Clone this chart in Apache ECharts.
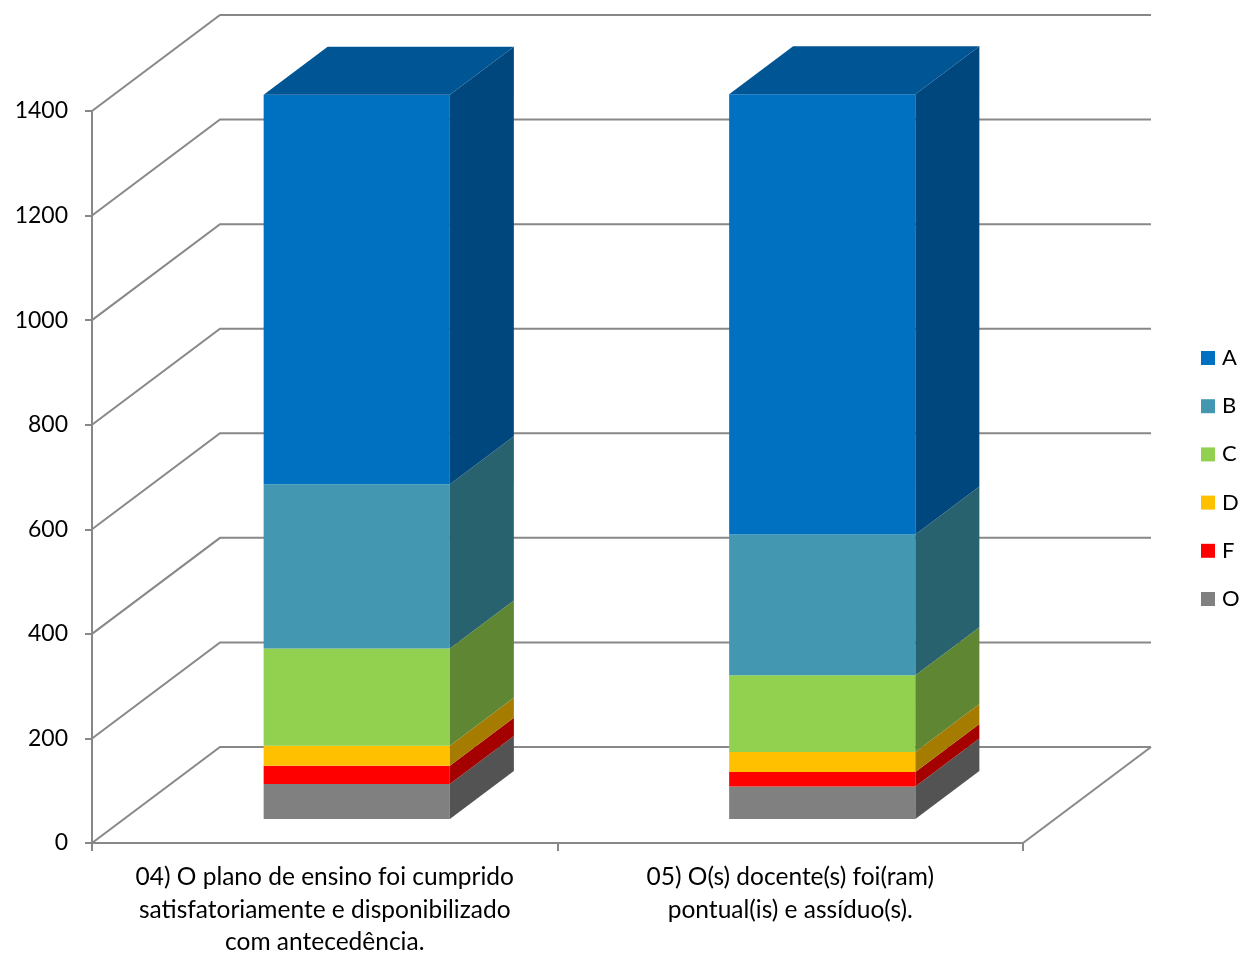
<!DOCTYPE html>
<html>
<head>
<meta charset="utf-8">
<script src="https://cdn.jsdelivr.net/npm/echarts@6/dist/echarts.min.js"></script>
<style>
html,body{margin:0;padding:0;background:#fff;}
#chart{width:1245px;height:955px;}
</style>
</head>
<body>
<div id="chart"></div>
<script>
// ---- data ----
const categories = [
  '04) O plano de ensino foi cumprido\nsatisfatoriamente e disponibilizado\ncom antecedência.',
  '05) O(s) docente(s) foi(ram)\npontual(is) e assíduo(s).'
];
const legendOrder = ['A', 'B', 'C', 'D', 'F', 'O'];
const stackOrder = ['O', 'F', 'D', 'C', 'B', 'A']; // bottom to top
const valuesA = [745, 842];
const valuesB = [314, 269];
const valuesC = [186, 147];
const valuesD = [38, 38];
const valuesF = [35, 28];
const valuesO = [67, 62];
const yTicks = [0, 200, 400, 600, 800, 1000, 1200, 1400];

// ---- styles ----
const valueMap = { A: valuesA, B: valuesB, C: valuesC, D: valuesD, F: valuesF, O: valuesO };
const frontColor = { A: '#0070C0', B: '#4397B0', C: '#92D050', D: '#FFC000', F: '#FF0000', O: '#808080' };
const sideColor = { A: '#00477E', B: '#29626F', C: '#5F8733', D: '#A67C00', F: '#A50000', O: '#535353' };
const topColor = { A: '#005594' };
const DX = 128, DY = 96; // full depth of the 3D box, pixels
const FONT = 'Lato, "Open Sans", sans-serif';
const GRID_COLOR = '#888888';

// cumulative stack bases
const cum = categories.map(() => 0);
const barSeries = stackOrder.map((name, si) => {
  const vals = valueMap[name];
  const data = vals.map((v, ci) => {
    const base = cum[ci];
    cum[ci] += v;
    return [ci, base, base + v];
  });
  const isTop = si === stackOrder.length - 1;
  return {
    name: name,
    type: 'custom',
    xAxisIndex: 0,
    yAxisIndex: 0,
    z: 5,
    itemStyle: { color: frontColor[name] },
    encode: { x: 0, y: 2 },
    data: data,
    renderItem: function (params, api) {
      const cat = api.value(0), base = api.value(1), top = api.value(2);
      const bw = api.size([1, 0])[0] * 0.4;
      const pB = api.coord([cat, base]);
      const pT = api.coord([cat, top]);
      const cx = pB[0] + DX * 0.25;
      const x0 = cx - bw / 2, x1 = cx + bw / 2;
      const yb = pB[1] - DY * 0.25, yt = pT[1] - DY * 0.25;
      const dx = DX * 0.5, dy = DY * 0.5;
      const children = [
        { type: 'polygon', shape: { points: [[x0, yb], [x1, yb], [x1, yt], [x0, yt]] },
          style: { fill: frontColor[name] } },
        { type: 'polygon', shape: { points: [[x1, yb], [x1 + dx, yb - dy], [x1 + dx, yt - dy], [x1, yt]] },
          style: { fill: sideColor[name] } }
      ];
      if (isTop) {
        children.push({ type: 'polygon', shape: { points: [[x0, yt], [x1, yt], [x1 + dx, yt - dy], [x0 + dx, yt - dy]] },
          style: { fill: topColor[name] || sideColor[name] } });
      }
      return { type: 'group', children: children };
    }
  };
});

const wallSeries = {
  name: 'walls',
  type: 'custom',
  xAxisIndex: 1,
  yAxisIndex: 0,
  z: 1,
  silent: true,
  encode: { y: 0 },
  data: yTicks.map(v => [v]),
  renderItem: function (params, api) {
    const v = api.value(0);
    const p0 = api.coord([0, v]);
    const p1 = api.coord([1, v]);
    const children = [
      { type: 'polyline', shape: { points: [p0, [p0[0] + DX, p0[1] - DY], [p1[0] + DX, p1[1] - DY]] },
        style: { stroke: GRID_COLOR, lineWidth: 2, fill: null } }
    ];
    if (v === 0) {
      children.push({ type: 'line', shape: { x1: p1[0], y1: p1[1], x2: p1[0] + DX, y2: p1[1] - DY },
        style: { stroke: GRID_COLOR, lineWidth: 2 } });
    }
    return { type: 'group', children: children };
  }
};

const chart = echarts.init(document.getElementById('chart'), null, { renderer: 'canvas' });
chart.setOption({
  animation: false,
  backgroundColor: '#ffffff',
  grid: { left: 92, right: 222, top: 111, bottom: 112, containLabel: false, outerBoundsMode: 'none' },
  legend: {
    data: legendOrder,
    orient: 'vertical',
    left: 1201,
    top: 346,
    padding: 0,
    icon: 'rect',
    itemWidth: 14,
    itemHeight: 14,
    itemGap: 24.2,
    textStyle: { fontFamily: FONT, fontSize: 22, color: '#000', lineHeight: 24, padding: [0, 0, 0, 2] }
  },
  xAxis: [
    {
      type: 'category',
      data: categories,
      axisLine: { show: true, lineStyle: { color: GRID_COLOR, width: 2 } },
      axisTick: { show: true, length: 8, lineStyle: { color: GRID_COLOR, width: 2 } },
      axisLabel: { fontFamily: FONT, fontSize: 24.5, color: '#000', lineHeight: 32.5, margin: 18, interval: 0, align: 'center' },
      splitLine: { show: false }
    },
    { type: 'value', min: 0, max: 1, show: false }
  ],
  yAxis: {
    type: 'value',
    min: 0,
    max: 1400,
    interval: 200,
    axisLine: { show: true, lineStyle: { color: GRID_COLOR, width: 2 } },
    axisTick: { show: true, length: 7, lineStyle: { color: GRID_COLOR, width: 2 } },
    axisLabel: { fontFamily: FONT, fontSize: 23, color: '#000', margin: 24, formatter: function (v) { return String(v); } },
    splitLine: { show: false }
  },
  series: [wallSeries].concat(barSeries)
});
</script>
</body>
</html>
